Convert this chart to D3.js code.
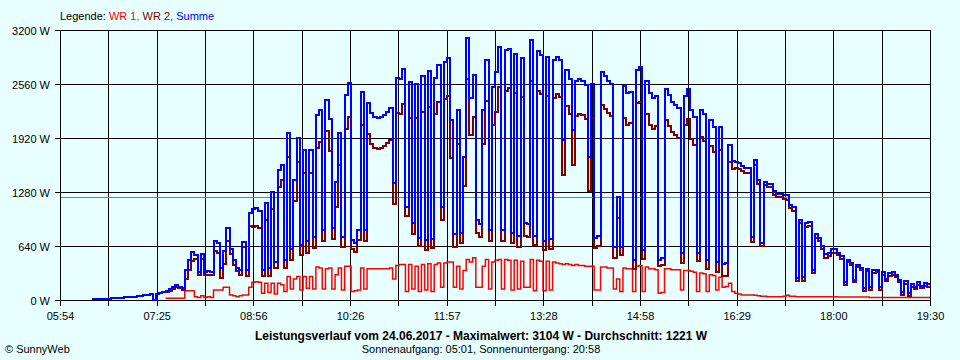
<!DOCTYPE html>
<html><head><meta charset="utf-8">
<script src="https://cdn.jsdelivr.net/npm/d3@7"></script>
<style>
html,body{margin:0;padding:0;background:#E8FFFF;}
svg{display:block;}
text{font-family:"Liberation Sans", Arial, sans-serif;}
</style></head><body>
<svg id="c" width="960" height="360"></svg>
<script>
// ---- data ----
const startTime = "06:24";
const stepMinutes = 3;
const axisStart = "05:54";
const axisEnd = "19:30";
const xTickLabels = ["05:54","07:25","08:56","10:26","11:57","13:28","14:58","16:29","18:00","19:30"];
const yTickValues = [0, 640, 1280, 1920, 2560, 3200];
const average = 1221;
const seriesNames = ["WR 1", "WR 2", "Summe"];

const wr1 = [null,null,null,null,null,null,null,null,null,null,
 null,null,null,null,null,null,null,null,null,null,
 null,null,null,20,20,20,20,20,20,110,
 110,110,40,30,50,30,40,30,120,120,
 120,150,150,60,50,40,50,60,60,150,
 210,215,210,80,200,90,200,70,200,180,
 100,280,130,250,280,120,280,140,280,130,
 390,380,130,370,380,130,300,380,120,400,
 400,100,110,120,380,130,370,370,370,370,
 370,370,370,380,250,410,420,420,100,420,
 130,400,100,420,120,430,100,420,440,150,
 440,450,450,150,400,130,350,480,450,500,
 150,150,400,480,130,450,470,480,130,480,
 470,120,470,130,460,150,150,480,110,470,
 460,110,460,120,450,440,430,420,430,420,
 410,420,410,410,400,400,400,120,120,390,
 390,380,380,130,250,100,380,370,370,100,
 400,410,100,390,370,370,360,80,90,370,
 370,360,360,360,120,350,350,340,330,100,
 320,310,100,300,290,120,270,150,160,200,
 100,80,70,60,60,60,60,55,50,45,
 45,40,40,40,40,40,45,55,45,45,
 40,40,40,40,40,40,40,40,40,40,
 40,40,40,35,35,35,35,35,35,35,
 35,35,35,30,30,30,30,30,30,30,
 30,30,30,30,30,30,30,30,30,30,
 30,30,30];

const wr2 = [10,10,10,10,15,15,20,20,20,25,
 30,30,35,40,45,50,55,60,70,0,
 75,80,90,90,110,130,155,140,120,250,
 360,460,490,300,490,300,300,300,580,560,
 260,430,700,540,420,340,300,630,290,880,
 870,875,850,280,950,290,1080,380,1340,1420,
 380,1700,470,1170,1640,530,1500,560,1500,620,
 1800,1870,700,2000,1770,720,1100,1600,630,2030,
 2170,610,570,710,2080,700,1970,1850,1800,1790,
 1800,1820,1860,1900,1140,2220,2200,2320,1000,2160,
 780,2160,640,2230,590,2290,620,2210,2350,950,
 2380,2420,1680,630,1850,670,1350,2620,1950,2170,
 800,750,1850,2360,700,2070,2230,2520,700,2480,
 2510,680,2450,630,2410,760,750,2600,650,2480,
 2440,590,2420,600,2390,2440,2410,1480,2300,2200,
 1600,2180,2210,2190,2150,1290,2160,620,640,2310,
 2260,2220,2180,500,970,530,2160,2080,2100,370,
 2330,2350,490,2210,2080,2030,2060,400,410,2130,
 2060,1990,1950,1920,440,2070,2150,1910,1840,460,
 1930,1890,370,1830,1760,330,1780,280,280,1640,
 1550,1560,1550,1530,1500,1500,690,1600,1370,640,
 1360,1340,1340,1250,1220,1220,1200,1190,1090,1060,
 220,910,230,870,880,320,740,700,600,500,
 520,560,560,530,490,180,450,410,210,390,
 350,110,340,120,320,330,120,300,220,290,
 300,270,210,60,190,50,160,130,180,140,
 170,160,160];

const summe = [10,10,10,10,15,15,20,20,20,25,
 30,30,35,40,45,50,55,60,70,0,
 75,80,90,110,130,150,175,160,140,360,
 470,570,530,330,540,330,340,330,700,680,
 380,580,850,600,470,380,350,690,350,1030,
 1080,1090,1060,360,1150,380,1280,450,1540,1600,
 480,1980,600,1420,1920,650,1780,700,1780,750,
 2190,2250,830,2370,2150,850,1400,1980,750,2430,
 2570,710,680,830,2460,830,2340,2220,2170,2160,
 2170,2190,2230,2280,1390,2630,2620,2740,1100,2580,
 910,2560,740,2650,710,2720,720,2630,2790,1100,
 2820,2870,2130,780,2250,800,1700,3100,2400,2670,
 950,900,2250,2840,830,2520,2700,3000,830,2960,
 2980,800,2920,760,2870,910,900,3080,760,2950,
 2900,700,2880,720,2840,2880,2840,1900,2730,2620,
 2010,2600,2620,2600,2550,1690,2560,740,760,2700,
 2650,2600,2560,630,1220,630,2540,2450,2470,470,
 2730,2760,590,2600,2450,2400,2420,480,500,2500,
 2430,2350,2310,2280,560,2420,2500,2250,2170,560,
 2250,2200,470,2130,2050,450,2050,430,440,1840,
 1650,1640,1620,1590,1560,1560,750,1660,1420,680,
 1400,1380,1380,1290,1260,1260,1250,1240,1130,1100,
 260,950,270,910,920,360,780,740,640,540,
 560,600,600,560,520,210,480,440,240,420,
 380,140,370,150,350,360,150,330,250,320,
 330,300,240,90,220,80,190,160,210,170,
 200,190,190];

// ---- chart ----
const colors = ["#FF0000", "#800000", "#0000FF"];
const widths = [1.5, 2, 2];
const toMin = s => { const [h, m] = s.split(":").map(Number); return h * 60 + m; };
const t0 = toMin(startTime);
const times = summe.map((d, i) => t0 + i * stepMinutes);

const svg = d3.select("#c");
const L = 60, R = 930, T = 30, B = 300;
const x = d3.scaleLinear().domain([toMin(axisStart), toMin(axisEnd)]).range([L, R]);
const y = d3.scaleLinear().domain([0, 3200]).range([B, T]);

const d0 = x.domain()[0], d1 = x.domain()[1];
const nInt = (xTickLabels.length - 1) * 2;
const xTicks = d3.range(nInt + 1).map(k => d0 + k * (d1 - d0) / nInt);

// grid
const grid = svg.append("g").attr("shape-rendering", "crispEdges").attr("stroke", "#000").attr("stroke-width", 1);
grid.selectAll("line.v").data(xTicks).join("line")
  .attr("x1", d => Math.round(x(d)) + 0.5).attr("x2", d => Math.round(x(d)) + 0.5)
  .attr("y1", T + 0.5).attr("y2", B + 5.5);
grid.selectAll("line.h").data(yTickValues).join("line")
  .attr("x1", L - 5).attr("x2", R + 1)
  .attr("y1", d => Math.round(y(d)) + 0.5).attr("y2", d => Math.round(y(d)) + 0.5);

// average line
svg.append("line").attr("shape-rendering", "crispEdges")
  .attr("x1", L + 1).attr("x2", R)
  .attr("y1", Math.round(y(average)) + 0.5).attr("y2", Math.round(y(average)) + 0.5)
  .attr("stroke", "#808080").attr("stroke-width", 1);

// y labels
const yAxis = d3.axisLeft(y).tickValues(yTickValues).tickFormat(d => d + " W").tickSize(0).tickPadding(10);
const ya = svg.append("g").attr("transform", `translate(${L},0.5)`).call(yAxis);
ya.select(".domain").remove();
ya.selectAll("text").attr("font-size", 11).attr("font-family", "Liberation Sans, Arial, sans-serif").attr("fill", "#000");

// x labels
svg.append("g").selectAll("text").data(xTickLabels).join("text")
  .attr("x", (d, i) => x(xTicks[i * 2]) + 0.5)
  .attr("y", 320)
  .attr("text-anchor", "middle")
  .attr("font-size", 11)
  .text(d => d);

// series
const line = d3.line()
  .defined(d => d[1] != null)
  .x(d => x(d[0]))
  .y(d => y(d[1]))
  .curve(d3.curveStepAfter);
[wr1, wr2, summe].forEach((s, k) => {
  svg.append("path")
    .datum(times.map((t, i) => [t, s[i]]))
    .attr("d", line)
    .attr("fill", "none")
    .attr("stroke", colors[k])
    .attr("stroke-width", widths[k])
    .attr("stroke-linejoin", "miter")
    .attr("shape-rendering", k === 0 ? "auto" : "crispEdges");
});

// legend
const lg = svg.append("text").attr("x", 60).attr("y", 20).attr("font-size", 11);
lg.append("tspan").attr("fill", "#000").text("Legende: ");
seriesNames.forEach((n, k) => {
  lg.append("tspan").attr("fill", colors[k]).text(n + (k < seriesNames.length - 1 ? ", " : ""));
});

// captions
svg.append("text").attr("x", 481).attr("y", 340).attr("text-anchor", "middle")
  .attr("font-size", 12).attr("font-weight", "bold")
  .text("Leistungsverlauf vom 24.06.2017 - Maximalwert: 3104 W - Durchschnitt: " + average + " W");
svg.append("text").attr("x", 481).attr("y", 353).attr("text-anchor", "middle")
  .attr("font-size", 11)
  .text("Sonnenaufgang: 05:01, Sonnenuntergang: 20:58");
svg.append("text").attr("x", 5).attr("y", 353).attr("font-size", 11)
  .text("© SunnyWeb");
</script>
</body></html>
